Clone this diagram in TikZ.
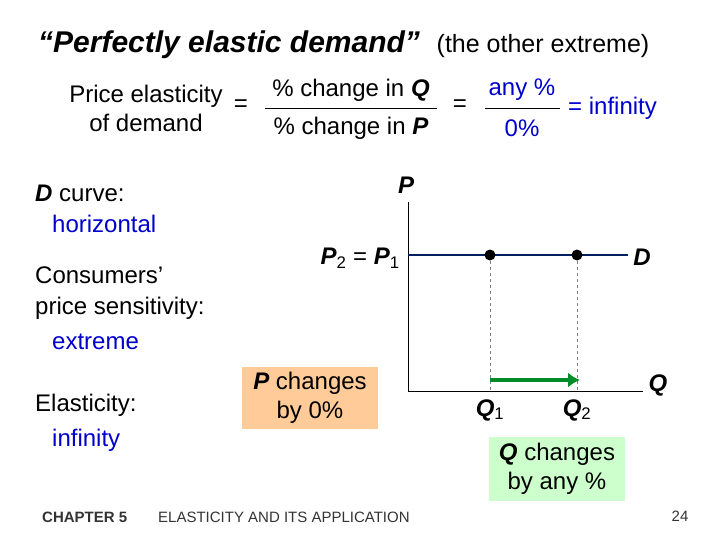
\documentclass[tikz,border=0pt]{standalone}
\usepackage{fontspec}
\setmainfont{Liberation Sans}
\usetikzlibrary{arrows.meta}
\definecolor{navy}{RGB}{0,32,96}
\definecolor{blu}{RGB}{0,0,204}
\definecolor{peach}{RGB}{255,204,153}
\definecolor{lgreen}{RGB}{204,255,204}
\definecolor{dgreen}{RGB}{0,140,40}
\begin{document}
\begin{tikzpicture}[x=1pt,y=-1pt,
  txt/.style={inner sep=0pt,font=\fontsize{24}{29}\selectfont},
  bl/.style={txt,text=blu},
  bi/.style={txt,font=\fontsize{24}{29}\selectfont\bfseries\itshape},
  dot/.style={circle,fill=black,inner sep=0pt,minimum size=11pt},
  guide/.style={gray,dashed,line width=0.8pt}]
\useasboundingbox (0,0) rectangle (720,540);
\node[anchor=west,inner sep=0pt] (title) at (38,45) {\fontsize{30}{34}\selectfont\textbf{\textit{“Perfectly elastic demand”}}\ \ \fontsize{25}{30}\selectfont(the other extreme)};
\node[txt,align=center] (pe) at (146,108) {Price elasticity\\of demand};
\node[txt] (eq1) at (241,106) {=};
\node[txt] (num) at (351,90) {\% change in \textbf{\textit{Q}}};
\node[txt] (den) at (351,128) {\% change in \textbf{\textit{P}}};
\draw (265,108) -- (437,108);
\node[txt] (eq2) at (460,106) {=};
\node[bl] (any) at (522,90) {any \%};
\node[bl] (zero) at (522,128) {0\%};
\draw (485,108) -- (560,108);
\node[bl,anchor=west] (inf) at (568,108) {= infinity};
\node[txt,anchor=west] (dc) at (35,193) {\textbf{\textit{D}} curve:};
\node[bl,anchor=west] (hz) at (52,224) {horizontal};
\node[txt,anchor=west] (cs1) at (35,275) {Consumers’};
\node[txt,anchor=west] (cs2) at (35,308) {price sensitivity:};
\node[bl,anchor=west] (ex) at (52,342) {extreme};
\node[txt,anchor=west] (el) at (35,405) {Elasticity:};
\node[bl,anchor=west] (in) at (52,440) {infinity};
% graph
\coordinate (O) at (408,391);
\coordinate (top) at (408,202);
\coordinate (right) at (643,391);
\draw[line width=1pt] (top) -- (O) -- (right);
\node[bi] (P) at (406,185) {P};
\node[bi] (Q) at (658,385) {Q};
\node[txt,anchor=east] (p21) at (400,258) {\textbf{\textit{P}}\textsubscript{2} = \textbf{\textit{P}}\textsubscript{1}};
\coordinate (Ds) at (408,255);
\coordinate (De) at (628,255);
\draw[navy,line width=2.5pt] (Ds) -- (De);
\node[bi] (D) at (642,257) {D};
\node[dot] (d1) at (490,255) {};
\node[dot] (d2) at (577,255) {};
\coordinate (q1) at (490,391);
\coordinate (q2) at (577,391);
\draw[guide] (d1) -- (q1);
\draw[guide] (d2) -- (q2);
\node[txt] (Q1) at (490,410) {\textbf{\textit{Q}}\textsubscript{1}};
\node[txt] (Q2) at (577,410) {\textbf{\textit{Q}}\textsubscript{2}};
\coordinate (a1) at (490,380);
\coordinate (a2) at (580,380);
\draw[dgreen,line width=4pt,-{Latex[length=12pt,width=15pt]}] (a1) -- (a2);
\node[txt,fill=peach,align=center,minimum width=136pt,minimum height=62pt] (pc) at (310,398) {\textbf{\textit{P}} changes\\by 0\%};
\node[txt,fill=lgreen,align=center,minimum width=136pt,minimum height=64pt] (qc) at (557,469) {\textbf{\textit{Q}} changes\\by any \%};
\node[anchor=west,inner sep=0pt,text=black!80,font=\fontsize{15}{18}\selectfont\bfseries] (ch) at (42,517) {CHAPTER 5};
\node[anchor=west,inner sep=0pt,text=black!80,font=\fontsize{15}{18}\selectfont] (ft) at (158,517) {ELASTICITY AND ITS APPLICATION};
\node[inner sep=0pt,text=black!80,font=\fontsize{15}{18}\selectfont] (pg) at (680,516) {24};
\end{tikzpicture}
\end{document}
